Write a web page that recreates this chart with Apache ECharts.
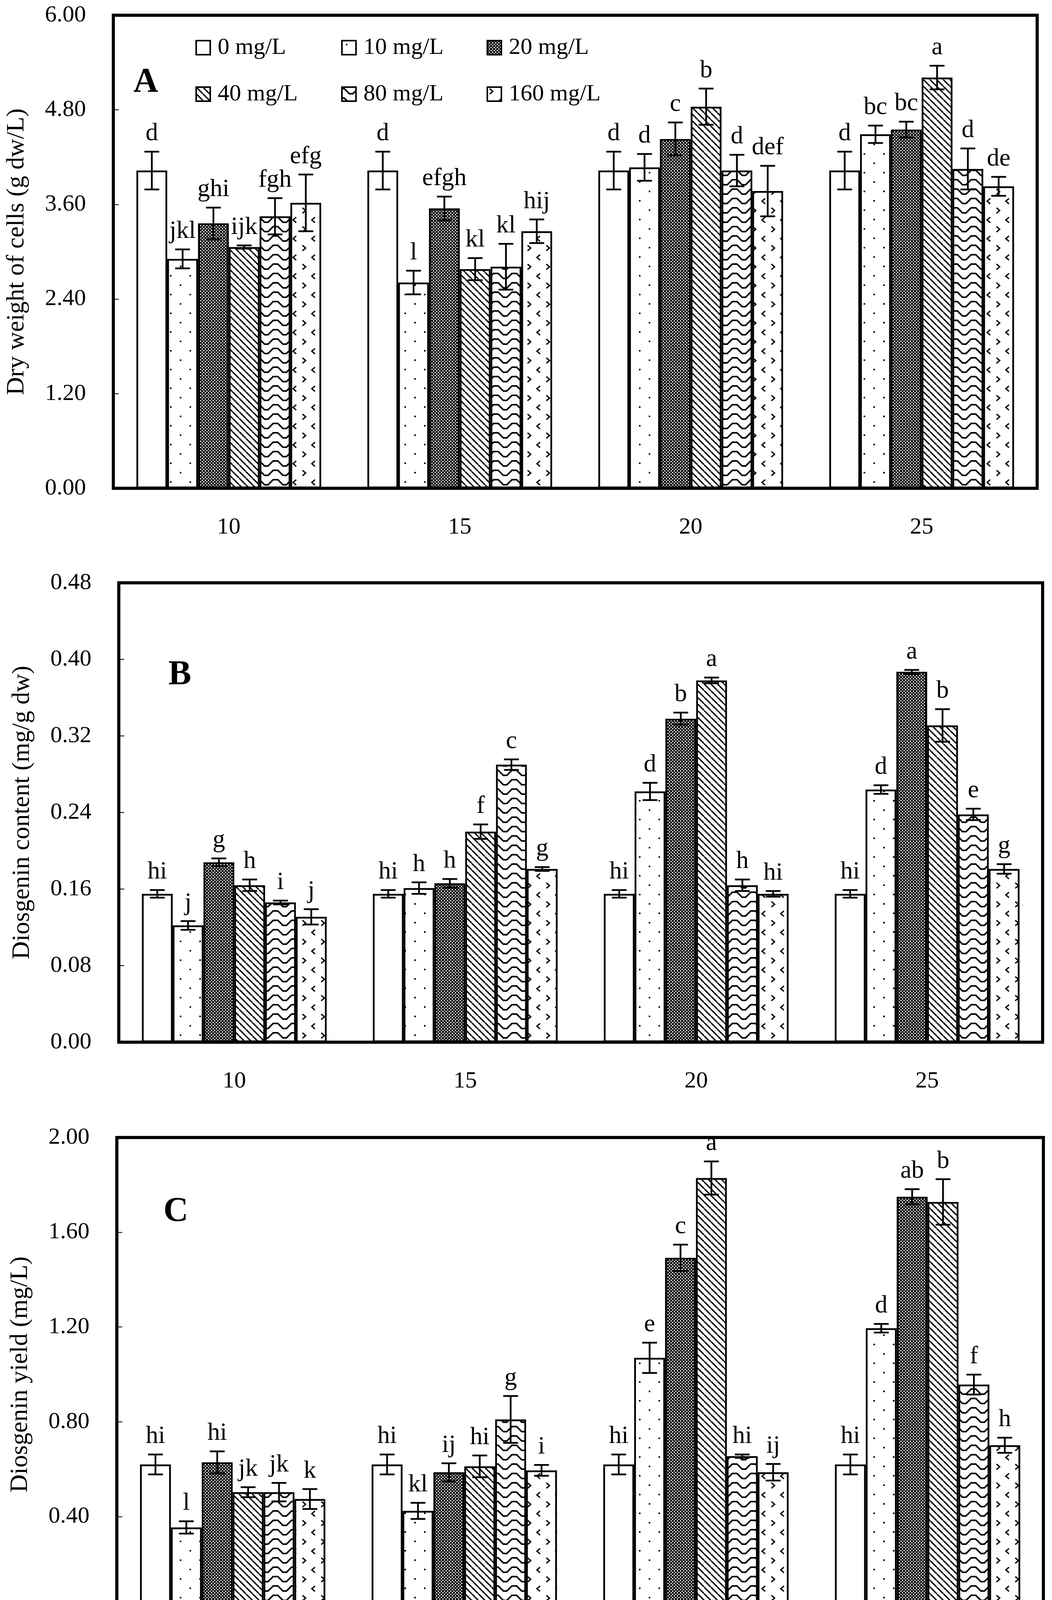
<!DOCTYPE html>
<html lang="en">
<head>
<meta charset="UTF-8">
<title>EPS adding time - dry weight, diosgenin content and yield</title>
<script src="https://cdn.jsdelivr.net/npm/echarts@6/dist/echarts.min.js"></script>
<style>
    html, body { margin: 0; padding: 0; background: #fff; }
    #main { width: 2692px; height: 4394px; }
</style>
</head>
<body>
<div id="main"></div>
<script>
    var days = ['10', '15', '20', '25'];
    var doses = ['0 mg/L', '10 mg/L', '20 mg/L', '40 mg/L', '80 mg/L', '160 mg/L'];

    // A: dry weight of cells (g dw/L), one array per dose over the 4 days
    var dw0 = [4.03, 4.03, 4.03, 4.03];
    var dw10 = [2.91, 2.61, 4.07, 4.49];
    var dw20 = [3.36, 3.55, 4.43, 4.55];
    var dw40 = [3.06, 2.78, 4.84, 5.21];
    var dw80 = [3.45, 2.81, 4.03, 4.05];
    var dw160 = [3.62, 3.26, 3.77, 3.83];
    var dwErr0 = [0.24, 0.24, 0.24, 0.24];
    var dwErr10 = [0.12, 0.15, 0.17, 0.11];
    var dwErr20 = [0.20, 0.15, 0.21, 0.10];
    var dwErr40 = [0.02, 0.14, 0.23, 0.15];
    var dwErr80 = [0.23, 0.29, 0.20, 0.26];
    var dwErr160 = [0.36, 0.15, 0.32, 0.12];
    var dwSig0 = ['d', 'd', 'd', 'd'];
    var dwSig10 = ['jkl', 'l', 'd', 'bc'];
    var dwSig20 = ['ghi', 'efgh', 'c', 'bc'];
    var dwSig40 = ['ijk', 'kl', 'b', 'a'];
    var dwSig80 = ['fgh', 'kl', 'd', 'd'];
    var dwSig160 = ['efg', 'hij', 'def', 'de'];

    // B: diosgenin content (mg/g dw)
    var dc0 = [0.155, 0.155, 0.155, 0.155];
    var dc10 = [0.122, 0.161, 0.262, 0.264];
    var dc20 = [0.188, 0.166, 0.338, 0.387];
    var dc40 = [0.164, 0.220, 0.378, 0.331];
    var dc80 = [0.146, 0.290, 0.164, 0.238];
    var dc160 = [0.131, 0.181, 0.155, 0.181];
    var dcErr0 = [0.004, 0.004, 0.004, 0.004];
    var dcErr10 = [0.0045, 0.006, 0.009, 0.0045];
    var dcErr20 = [0.004, 0.0045, 0.0064, 0.002];
    var dcErr40 = [0.006, 0.0076, 0.003, 0.017];
    var dcErr80 = [0.002, 0.0055, 0.006, 0.006];
    var dcErr160 = [0.008, 0.002, 0.003, 0.005];
    var dcSig0 = ['hi', 'hi', 'hi', 'hi'];
    var dcSig10 = ['j', 'h', 'd', 'd'];
    var dcSig20 = ['g', 'h', 'b', 'a'];
    var dcSig40 = ['h', 'f', 'a', 'b'];
    var dcSig80 = ['i', 'c', 'h', 'e'];
    var dcSig160 = ['j', 'g', 'hi', 'g'];

    // C: diosgenin yield (mg/L)
    var dy0 = [0.620, 0.620, 0.620, 0.620];
    var dy10 = [0.354, 0.424, 1.070, 1.195];
    var dy20 = [0.629, 0.587, 1.492, 1.750];
    var dy40 = [0.503, 0.612, 1.829, 1.728];
    var dy80 = [0.503, 0.810, 0.655, 0.957];
    var dy160 = [0.474, 0.595, 0.587, 0.701];
    var dyErr0 = [0.042, 0.042, 0.042, 0.042];
    var dyErr10 = [0.026, 0.034, 0.064, 0.018];
    var dyErr20 = [0.046, 0.038, 0.056, 0.032];
    var dyErr40 = [0.021, 0.046, 0.070, 0.096];
    var dyErr80 = [0.039, 0.099, 0.007, 0.042];
    var dyErr160 = [0.042, 0.023, 0.035, 0.032];
    var dySig0 = ['hi', 'hi', 'hi', 'hi'];
    var dySig10 = ['l', 'kl', 'e', 'd'];
    var dySig20 = ['hi', 'ij', 'c', 'ab'];
    var dySig40 = ['jk', 'hi', 'a', 'b'];
    var dySig80 = ['jk', 'g', 'hi', 'f'];
    var dySig160 = ['k', 'i', 'ij', 'h'];

    var yTitles = ['Dry weight of cells (g dw/L)', 'Diosgenin content (mg/g dw)', 'Diosgenin yield (mg/L)'];
    var yMax = [6, 0.48, 2];
    var yStep = [1.2, 0.08, 0.4];
    var panelTags = ['A', 'B', 'C'];

    var values = [
        [dw0, dw10, dw20, dw40, dw80, dw160],
        [dc0, dc10, dc20, dc40, dc80, dc160],
        [dy0, dy10, dy20, dy40, dy80, dy160]
    ];
    var errors = [
        [dwErr0, dwErr10, dwErr20, dwErr40, dwErr80, dwErr160],
        [dcErr0, dcErr10, dcErr20, dcErr40, dcErr80, dcErr160],
        [dyErr0, dyErr10, dyErr20, dyErr40, dyErr80, dyErr160]
    ];
    var letters = [
        [dwSig0, dwSig10, dwSig20, dwSig40, dwSig80, dwSig160],
        [dcSig0, dcSig10, dcSig20, dcSig40, dcSig80, dcSig160],
        [dySig0, dySig10, dySig20, dySig40, dySig80, dySig160]
    ];

    var FONT = '"Liberation Serif", "Times New Roman", serif';

    // hatch fills, drawn on small canvases and tiled
    function makeFill(kind) {
        if (kind === 'blank') return '#ffffff';
        var c = document.createElement('canvas');
        var g;
        if (kind === 'dots') {
            c.width = 50; c.height = 48;
            g = c.getContext('2d');
            g.fillStyle = '#fff'; g.fillRect(0, 0, 50, 48);
            g.fillStyle = '#000';
            g.fillRect(10, 8, 4, 4);
            g.fillRect(35, 32, 4, 4);
        } else if (kind === 'checker') {
            c.width = 8; c.height = 8;
            g = c.getContext('2d');
            g.fillStyle = '#000'; g.fillRect(0, 0, 8, 8);
            g.fillStyle = '#fff';
            g.fillRect(0, 0, 3, 3);
            g.fillRect(4, 4, 3, 3);
        } else if (kind === 'diag') {
            c.width = 17; c.height = 17;
            g = c.getContext('2d');
            g.fillStyle = '#fff'; g.fillRect(0, 0, 17, 17);
            g.strokeStyle = '#000'; g.lineWidth = 3.5;
            for (var o = -17; o <= 17; o += 17) {
                g.beginPath(); g.moveTo(o, 0); g.lineTo(o + 17, 17); g.stroke();
            }
        } else if (kind === 'wave') {
            c.width = 47; c.height = 24;
            g = c.getContext('2d');
            g.fillStyle = '#fff'; g.fillRect(0, 0, 47, 24);
            g.strokeStyle = '#000'; g.lineWidth = 4;
            var pts = [[0, 4], [6, 4], [19, 17], [28, 17], [41, 4], [47, 4]];
            g.beginPath();
            pts.forEach(function (p, i) { i ? g.lineTo(p[0], p[1]) : g.moveTo(p[0], p[1]); });
            g.stroke();
        } else if (kind === 'chevron') {
            c.width = 48; c.height = 48;
            g = c.getContext('2d');
            g.fillStyle = '#fff'; g.fillRect(0, 0, 48, 48);
            g.strokeStyle = '#000'; g.lineWidth = 3.5;
            g.beginPath(); g.moveTo(6, 4); g.lineTo(14, 11); g.lineTo(6, 18); g.stroke();
            g.beginPath(); g.moveTo(38, 28); g.lineTo(30, 35); g.lineTo(38, 42); g.stroke();
        }
        return {image: c, repeat: 'repeat'};
    }
    var fills = ['blank', 'dots', 'checker', 'diag', 'wave', 'chevron'].map(makeFill);

    var grids = [
        {left: 290, top: 39, width: 2364, height: 1211},
        {left: 304, top: 1492, width: 2364, height: 1176},
        {left: 299, top: 2912, width: 2371, height: 1213}
    ];

    var xAxes = [], yAxes = [], series = [];
    grids.forEach(function (gr, p) {
        gr.show = true;
        gr.borderColor = '#000';
        gr.borderWidth = 8;
        gr.backgroundColor = 'transparent';

        xAxes.push({
            type: 'category', gridIndex: p, data: days,
            axisLine: {lineStyle: {color: '#000', width: 8}},
            axisTick: {inside: true, length: 16, lineStyle: {color: '#000', width: 2}},
            axisLabel: {color: '#000', fontFamily: FONT, fontSize: 60, margin: 70},
            name: p === 2 ? 'EPS adding time (day)' : '',
            nameLocation: 'middle', nameGap: 195,
            nameTextStyle: {color: '#000', fontFamily: FONT, fontSize: 64}
        });
        yAxes.push({
            type: 'value', gridIndex: p, min: 0, max: yMax[p], interval: yStep[p],
            splitLine: {show: false},
            axisLine: {show: true, lineStyle: {color: '#000', width: 8}},
            axisTick: {show: true, inside: true, length: 14, lineStyle: {color: '#000', width: 2}},
            axisLabel: {
                color: '#000', fontFamily: FONT, fontSize: 60, margin: 70,
                formatter: function (v) { return v.toFixed(2); }
            },
            name: yTitles[p], nameLocation: 'middle', nameRotate: 90, nameGap: 215,
            nameTextStyle: {color: '#000', fontFamily: FONT, fontSize: 64}
        });

        doses.forEach(function (d, k) {
            series.push({
                type: 'bar', name: d, xAxisIndex: p, yAxisIndex: p,
                data: values[p][k],
                barGap: '0%', barCategoryGap: '20%',
                itemStyle: {color: fills[k], borderColor: '#000', borderWidth: 4.5},
                emphasis: {disabled: true},
                z: 2
            });
        });

        // error bars and significance letters
        var items = [], tags = [];
        doses.forEach(function (d, k) {
            days.forEach(function (day, i) {
                items.push([i, k, values[p][k][i], errors[p][k][i]]);
                tags.push(letters[p][k][i]);
            });
        });
        series.push({
            type: 'custom', xAxisIndex: p, yAxisIndex: p, z: 10,
            data: items, encode: {x: 0, y: 2},
            silent: true,
            renderItem: function (params, api) {
                var cat = api.value(0), k = api.value(1), v = api.value(2), e = api.value(3);
                var bw = api.size([1, 0])[0] * 0.8 / 6;
                var x = api.coord([cat, v])[0] + (k - 2.5) * bw;
                var yTop = api.coord([cat, v + e])[1];
                var yBot = api.coord([cat, v - e])[1];
                var ls = {stroke: '#000', lineWidth: 4.5};
                var cap = 19;
                return {
                    type: 'group',
                    children: [
                        {type: 'line', shape: {x1: x, y1: yTop, x2: x, y2: yBot}, style: ls},
                        {type: 'line', shape: {x1: x - cap, y1: yTop, x2: x + cap, y2: yTop}, style: ls},
                        {type: 'line', shape: {x1: x - cap, y1: yBot, x2: x + cap, y2: yBot}, style: ls},
                        {
                            type: 'text',
                            style: {
                                text: tags[params.dataIndex], x: x, y: yTop - 14,
                                align: 'center', verticalAlign: 'bottom',
                                fontFamily: FONT, fontSize: 64, fill: '#000'
                            }
                        }
                    ]
                };
            }
        });
    });

    var legendLeft = [500, 873, 1245];
    var legendTop = [92, 211];
    var legends = doses.map(function (d, k) {
        return {
            data: [d], left: legendLeft[k % 3], top: legendTop[Math.floor(k / 3)],
            padding: 0, icon: 'rect', itemWidth: 36, itemHeight: 36,
            selectedMode: false,
            itemStyle: {borderColor: '#000', borderWidth: 4},
            textStyle: {color: '#000', fontFamily: FONT, fontSize: 60, padding: [0, 0, 0, 14]}
        };
    });

    var tagPos = [[373, 211], [460, 1728], [450, 3102]];
    var graphics = panelTags.map(function (t, p) {
        return {
            type: 'text', x: tagPos[p][0], y: tagPos[p][1],
            style: {
                text: t, align: 'center', verticalAlign: 'middle',
                font: 'bold 88px "Liberation Serif"', fill: '#000'
            }
        };
    });

    var myChart = echarts.init(document.getElementById('main'), null, {renderer: 'canvas'});
    myChart.setOption({
        animation: false,
        backgroundColor: '#fff',
        grid: grids,
        xAxis: xAxes,
        yAxis: yAxes,
        legend: legends,
        graphic: graphics,
        series: series
    });
</script>
</body>
</html>
